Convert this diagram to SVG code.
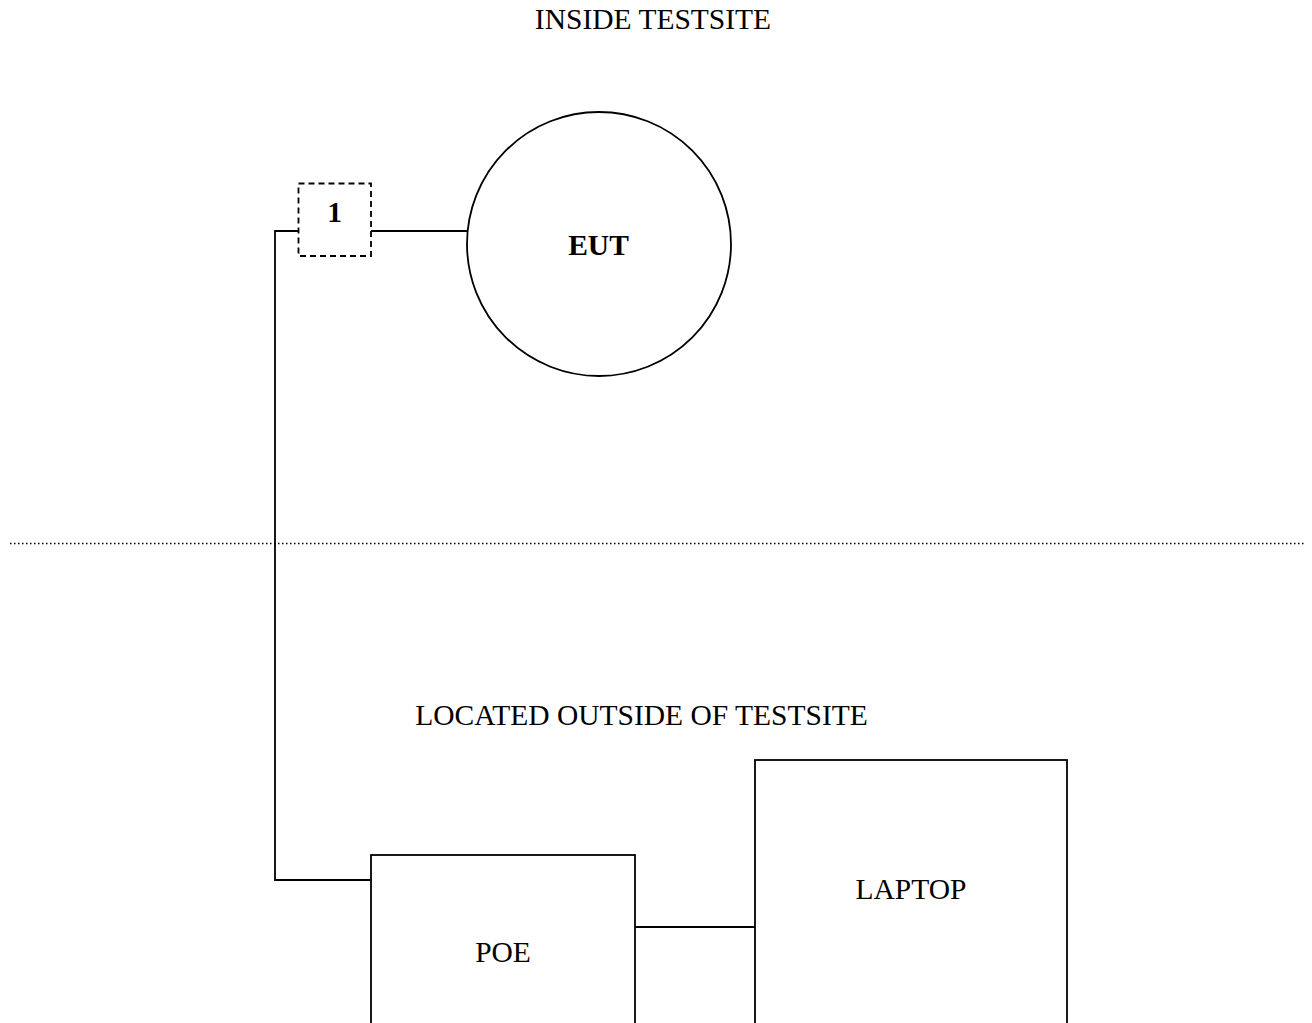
<svg xmlns="http://www.w3.org/2000/svg" width="1312" height="1023" viewBox="0 0 1312 1023">
<style>
.ln{fill:none;stroke:#000;stroke-width:1.8}
.bx{fill:#fff;stroke:#000;stroke-width:1.8}
.t{font-family:"Liberation Serif","Times New Roman",serif;font-size:29.5px;fill:#000;text-anchor:middle}
.b{font-weight:bold}
</style>
<rect width="1312" height="1023" fill="#fff"/>
<g id="labels">
<text class="t" x="653" y="29">INSIDE TESTSITE</text>
<text class="t" x="641.5" y="725">LOCATED OUTSIDE OF TESTSITE</text>
</g>
<line id="boundary" x1="10" y1="543.5" x2="1306" y2="543.5" stroke="#000" stroke-width="1.5" stroke-dasharray="1.5 2.5"/>
<g id="connectors">
<polyline class="ln" points="299,231 275,231 275,880 371,880"/>
<line class="ln" x1="371" y1="231" x2="467" y2="231"/>
<line class="ln" x1="635" y1="927" x2="755" y2="927"/>
</g>
<g id="node-1">
<rect x="298.5" y="183.5" width="72.5" height="72.5" fill="#fff" stroke="#000" stroke-width="1.8" stroke-dasharray="6 4"/>
<text class="t b" x="334.5" y="222">1</text>
</g>
<g id="node-eut">
<circle class="bx" cx="599" cy="244" r="132"/>
<text class="t b" x="598.5" y="255">EUT</text>
</g>
<g id="node-poe">
<rect class="bx" x="371" y="855" width="264" height="180"/>
<text class="t" x="503" y="962">POE</text>
</g>
<g id="node-laptop">
<rect class="bx" x="755" y="760" width="312" height="275"/>
<text class="t" x="911" y="899">LAPTOP</text>
</g>
</svg>
